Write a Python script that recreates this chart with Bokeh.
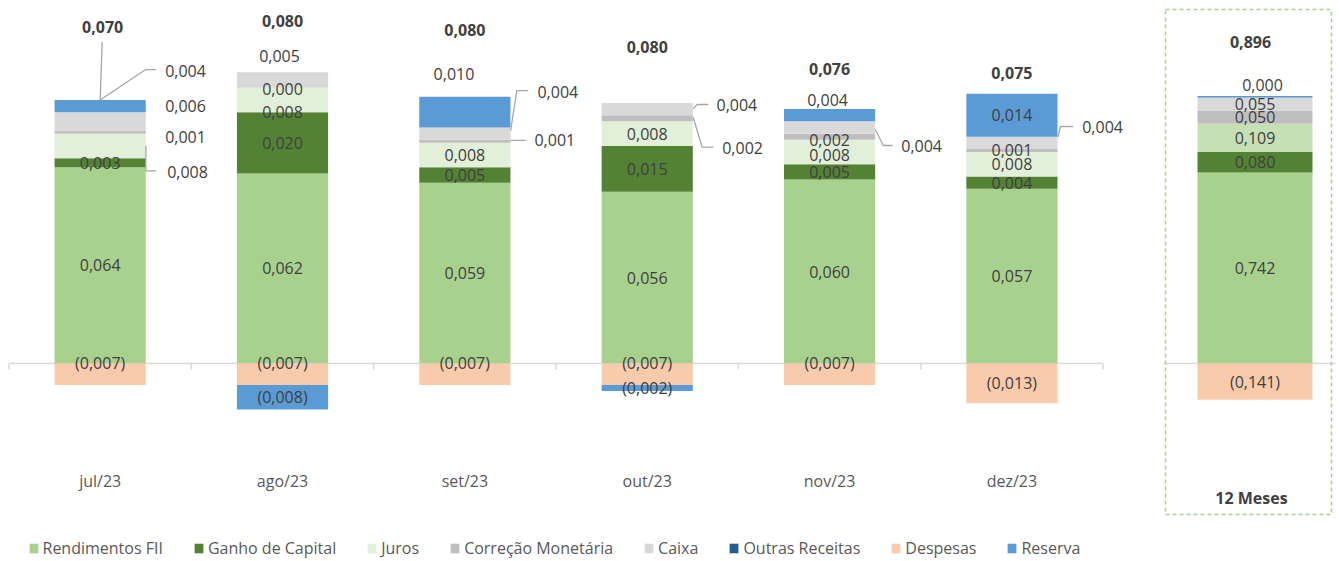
import numpy as np
from bokeh.plotting import figure
from bokeh.models import Range1d, Legend, LegendItem
from bokeh.embed import file_html
from bokeh.resources import INLINE
from bokeh.core.properties import value

# ---------------- data ----------------
months = ["jul/23", "ago/23", "set/23", "out/23", "nov/23", "dez/23"]
rendimentos = [0.064, 0.062, 0.059, 0.056, 0.060, 0.057]
ganho = [0.003, 0.020, 0.005, 0.015, 0.005, 0.004]
juros = [0.008, 0.008, 0.008, 0.008, 0.008, 0.008]
correcao = [0.001, 0.000, 0.001, 0.002, 0.002, 0.001]
caixa = [0.006, 0.005, 0.004, 0.004, 0.004, 0.004]
outras = [0.000, 0.000, 0.000, 0.000, 0.000, 0.000]
despesas = [-0.007, -0.007, -0.007, -0.007, -0.007, -0.013]
reserva = [0.004, -0.008, 0.010, -0.002, 0.004, 0.014]
totais = [0.070, 0.080, 0.080, 0.080, 0.076, 0.075]

label_12m = "12 Meses"
rendimentos_12m = 0.742
ganho_12m = 0.080
juros_12m = 0.109
correcao_12m = 0.050
caixa_12m = 0.055
outras_12m = 0.000
despesas_12m = -0.141
reserva_12m = 0.000
total_12m = 0.896

SERIES = ["rendimentos", "ganho", "juros", "correcao", "caixa", "outras", "despesas", "reserva"]
NAMES = {"rendimentos": "Rendimentos FII", "ganho": "Ganho de Capital", "juros": "Juros",
         "correcao": "Correção Monetária", "caixa": "Caixa", "outras": "Outras Receitas",
         "despesas": "Despesas", "reserva": "Reserva"}
MONTH_VALS = {"rendimentos": rendimentos, "ganho": ganho, "juros": juros, "correcao": correcao,
              "caixa": caixa, "outras": outras, "despesas": despesas, "reserva": reserva}
VALS_12M = {"rendimentos": rendimentos_12m, "ganho": ganho_12m, "juros": juros_12m,
            "correcao": correcao_12m, "caixa": caixa_12m, "outras": outras_12m,
            "despesas": despesas_12m, "reserva": reserva_12m}

# ---------------- styles ----------------
COLORS = {"rendimentos": "#a9d18e", "ganho": "#548235", "juros": "#e2f0d9", "correcao": "#bfbfbf",
          "caixa": "#d9d9d9", "outras": "#255e91", "despesas": "#f8cbad", "reserva": "#5b9bd5"}
COLORS_12M = dict(COLORS, juros="#c5e0b4")
FONT = "Open Sans"
FS = "16px"
TXT = "#404040"
AXC = "#595959"
LEADER = "#a6a6a6"
GRIDC = "#d9d9d9"

# label placement (screen px relative to the segment centre; +dy = down)
LBL = {
    (0, "juros"): dict(dx=67, dy=26.3, align="left", leader=[(45.7, 0), (45.7, 25), (56, 25)]),
    (0, "correcao"): dict(dx=65, dy=5.4, align="left"),
    (0, "caixa"): dict(dx=65, dy=-15.2, align="left"),
    (0, "reserva"): dict(dx=65, dy=-35.5, align="left", leader=[(0, -6.1), (45.5, -36.5), (56, -36.5)]),
    (0, "despesas"): dict(dy=-11.7),
    (1, "juros"): dict(dy=12.3),
    (1, "correcao"): dict(dy=1),
    (1, "caixa"): dict(dx=-3, dy=-23.5),
    (1, "despesas"): dict(dy=-11.7),
    (2, "correcao"): dict(dx=69.6, dy=-1, align="left", leader=[(45.7, -1), (61, -1)]),
    (2, "caixa"): dict(dx=72.6, dy=-41.4, align="left", leader=[(45.7, -3.1), (52, -43.1), (63, -43.1)]),
    (2, "reserva"): dict(dx=-10.9, dy=-38.4),
    (2, "despesas"): dict(dy=-11.7),
    (3, "caixa"): dict(dx=69.3, dy=-3.9, align="left", leader=[(46, -0.6), (50, -4.6), (61, -4.6)]),
    (3, "correcao"): dict(dx=75, dy=29.9, align="left", leader=[(46, -0.8), (55, 28.9), (66, 28.9)]),
    (3, "despesas"): dict(dy=-11.7),
    (4, "juros"): dict(dy=2.8),
    (4, "correcao"): dict(dy=3),
    (4, "caixa"): dict(dx=71.7, dy=19, align="left", leader=[(45.7, 2), (53.7, 18), (63, 18)]),
    (4, "reserva"): dict(dx=-2, dy=-15.4),
    (4, "despesas"): dict(dy=-11.7),
    (5, "caixa"): dict(dx=70.3, dy=-15.6, align="left", leader=[(46, -5.6), (48.6, -16.3), (61.3, -16.3)]),
}
TOT = [dict(dx=2.5, dy=-72.7, leader=[(0, 0), (2, -58)]), dict(dy=-51.1), dict(dy=-67.3),
       dict(dy=-55.8), dict(dy=-40.3), dict(dy=-20.6)]
LBL_12M = {"reserva": dict(dx=7.5, dy=-12.3)}
TOT_12M = dict(dx=-4.5, dy=-54.6)


def fmt(v):
    s = f"{abs(v):.3f}".replace(".", ",")
    return f"({s})" if v < 0 else s


def stack(vals):
    n = len(vals[SERIES[0]])
    pos = np.zeros(n)
    neg = np.zeros(n)
    out = {}
    for s in SERIES:
        v = np.asarray(vals[s], dtype=float)
        bottom = np.where(v >= 0, pos, neg)
        top = bottom + v
        pos = np.where(v >= 0, top, pos)
        neg = np.where(v < 0, top, neg)
        out[s] = (bottom, top)
    return out, pos


# ---------------- geometry (screen px) ----------------
W, H = 1339, 561
PX_CAT = 182.35      # px per month category
X0 = 8.5             # px of first category edge
ZERO = 363           # px of the zero line from the top
PX_Y1 = 3065.0       # px per unit (months)
PX_Y2 = 257.4        # px per unit (12 months)
BAR_W = 0.5
C12_PX, W12_PX = 1254.5, 115       # 12-month bar centre / width
BOX_PX = (1165, 1331, 9, 514)      # dashed frame: left, right, top, bottom
AX12_PX = (1163, 1335)


def xpx(px):
    return (px - X0) / PX_CAT


p = figure(width=W, height=H, output_backend="svg", toolbar_location=None,
           x_range=Range1d(xpx(0), xpx(W)),
           y_range=Range1d(-(H - ZERO) / PX_Y1, ZERO / PX_Y1),
           x_axis_location=None, y_axis_location=None,
           min_border_left=0, min_border_right=0, min_border_top=0, min_border_bottom=0)
p.extra_y_ranges = {"y12": Range1d(-(H - ZERO) / PX_Y2, ZERO / PX_Y2)}
p.grid.visible = False
p.outline_line_color = None
p.background_fill_color = "white"

n = len(months)
xc = np.arange(n) + 0.5

# zero line and category ticks
edges = np.arange(n + 1)
p.segment(x0=[0, xpx(AX12_PX[0])], y0=[0, 0], x1=[n, xpx(AX12_PX[1])], y1=[0, 0],
          line_color=GRIDC, line_width=1.5)
p.segment(x0=edges, y0=np.zeros(n + 1), x1=edges, y1=np.full(n + 1, -6 / PX_Y1),
          line_color=GRIDC, line_width=1.5)

segs, tops = stack(MONTH_VALS)
renderers = {}
for s in SERIES:
    b, t = segs[s]
    renderers[s] = p.vbar(x=xc, bottom=b, top=t, width=BAR_W, fill_color=COLORS[s], line_color=None)

# labels
cx, cy, ct, cdx, cdy = [], [], [], [], []
lx, ly, lt, ldx, ldy = [], [], [], [], []
lead_xs, lead_ys = [], []
for i in range(n):
    for s in SERIES:
        if s == "outras":
            continue
        v = MONTH_VALS[s][i]
        b, t = segs[s]
        mid = (b[i] + t[i]) / 2
        spec = LBL.get((i, s), {})
        dx, dy = spec.get("dx", 0), spec.get("dy", 0)
        if spec.get("align") == "left":
            lx.append(xc[i]); ly.append(mid); lt.append(fmt(v)); ldx.append(dx); ldy.append(dy)
        else:
            cx.append(xc[i]); cy.append(mid); ct.append(fmt(v)); cdx.append(dx); cdy.append(dy)
        if "leader" in spec:
            lead_xs.append([xc[i] + px / PX_CAT for px, _ in spec["leader"]])
            lead_ys.append([mid - py / PX_Y1 for _, py in spec["leader"]])

p.multi_line(xs=lead_xs + [[xc[0] + px / PX_CAT for px, _ in TOT[0]["leader"]]],
             ys=lead_ys + [[tops[0] - py / PX_Y1 for _, py in TOT[0]["leader"]]],
             line_color=LEADER, line_width=1.3)

p.text(x=cx, y=cy, text=ct, x_offset=cdx, y_offset=cdy, text_align="center", text_baseline="middle",
       text_font=value(FONT), text_font_size=FS, text_color=TXT)
p.text(x=lx, y=ly, text=lt, x_offset=ldx, y_offset=ldy, text_align="left", text_baseline="middle",
       text_font=value(FONT), text_font_size=FS, text_color=TXT)
p.text(x=xc, y=tops, text=[fmt(v) for v in totais],
       x_offset=[d.get("dx", 0) for d in TOT], y_offset=[d.get("dy", 0) for d in TOT],
       text_align="center", text_baseline="middle", text_font=value(FONT), text_font_size=FS,
       text_font_style="bold", text_color=TXT)
# month labels
p.text(x=xc, y=np.zeros(n), text=months, y_offset=117, text_align="center", text_baseline="middle",
       text_font=value(FONT), text_font_size=FS, text_color=AXC)

# ---------------- 12 months bar (own scale) ----------------
x12 = xpx(C12_PX)
w12 = W12_PX / PX_CAT
p.quad(left=[xpx(BOX_PX[0])], right=[xpx(BOX_PX[1])],
       top=[(ZERO - BOX_PX[2]) / PX_Y1], bottom=[-(BOX_PX[3] - ZERO) / PX_Y1],
       fill_color=None, line_color="#a9d18e", line_dash="4 3", line_width=1.5)

segs2, tops2 = stack({s: [VALS_12M[s]] for s in SERIES})
for s in SERIES:
    b, t = segs2[s]
    p.vbar(x=[x12], bottom=b, top=t, width=w12, fill_color=COLORS_12M[s], y_range_name="y12",
           line_color=COLORS_12M[s] if s == "reserva" else None, line_width=1.5)

tx, ty, tt, tdx, tdy = [], [], [], [], []
for s in SERIES:
    if s == "outras":
        continue
    b, t = segs2[s]
    spec = LBL_12M.get(s, {})
    tx.append(x12); ty.append((b[0] + t[0]) / 2); tt.append(fmt(VALS_12M[s]))
    tdx.append(spec.get("dx", 0)); tdy.append(spec.get("dy", 0))
p.text(x=tx, y=ty, text=tt, x_offset=tdx, y_offset=tdy, text_align="center", text_baseline="middle",
       text_font=value(FONT), text_font_size=FS, text_color=TXT, y_range_name="y12")
p.text(x=[x12], y=[tops2[0]], text=[fmt(total_12m)], x_offset=TOT_12M["dx"], y_offset=TOT_12M["dy"],
       text_align="center", text_baseline="middle", text_font=value(FONT), text_font_size=FS,
       text_font_style="bold", text_color=TXT, y_range_name="y12")
p.text(x=[x12], y=[0], text=[label_12m], x_offset=-3.5, y_offset=134, text_align="center",
       text_baseline="middle", text_font=value(FONT), text_font_size=FS, text_font_style="bold",
       text_color=TXT, y_range_name="y12")

legend = Legend(items=[LegendItem(label=NAMES[s], renderers=[renderers[s]]) for s in SERIES],
                orientation="horizontal", location=(27.5, 2),
                glyph_width=11, glyph_height=12, label_standoff=4, spacing=30, padding=0, margin=0,
                label_height=14, label_text_font=FONT, label_text_font_size=FS,
                label_text_color=AXC, label_text_baseline="middle",
                border_line_color=None, background_fill_alpha=0)
p.add_layout(legend)

open("out.html", "w").write(file_html(p, INLINE))
